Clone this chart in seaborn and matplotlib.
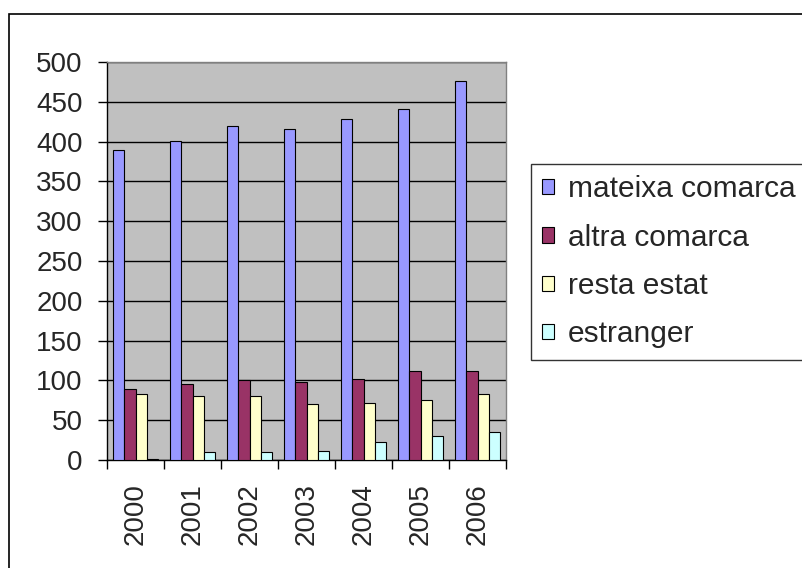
import pandas as pd
import numpy as np
import matplotlib
matplotlib.use("Agg")
import matplotlib.pyplot as plt
import seaborn as sns
from matplotlib.patches import Rectangle

# Dades llegides del gràfic
anys = ["2000", "2001", "2002", "2003", "2004", "2005", "2006"]
mateixa_comarca = [390, 401, 419, 416, 428, 441, 476]
altra_comarca = [89, 95, 101, 98, 102, 112, 112]
resta_estat = [83, 81, 81, 70, 72, 75, 83]
estranger = [1, 10, 10, 11, 23, 30, 35]

series = ["mateixa comarca", "altra comarca", "resta estat", "estranger"]
colors = ["#9999FF", "#993366", "#FFFFCC", "#CCFFFF"]

df = pd.DataFrame({
    "any": anys * 4,
    "serie": np.repeat(series, len(anys)),
    "valor": mateixa_comarca + altra_comarca + resta_estat + estranger,
})

sns.set_style("white")
plt.rcParams["font.family"] = ["Liberation Sans", "DejaVu Sans"]

fig = plt.figure(figsize=(8.02, 5.68), dpi=100)
ax = fig.add_axes([107 / 802, 1 - 460 / 568, 399 / 802, 398 / 568])

sns.barplot(data=df, x="any", y="valor", hue="serie", hue_order=series,
            palette=colors, width=0.8, edgecolor="black", linewidth=0.8,
            saturation=1, ax=ax, zorder=3)

ax.set_facecolor("#C0C0C0")
ax.set_ylim(0, 500)
ax.set_xlim(-0.5, 6.5)
ax.set_yticks(range(0, 501, 50))
ax.yaxis.grid(True, color="black", linewidth=1, zorder=0)
ax.set_axisbelow(True)
ax.set_xlabel("")
ax.set_ylabel("")

# marques entre categories
ax.set_xticks(np.arange(-0.5, 7, 1), minor=True)
ax.tick_params(axis="x", which="minor", length=6.5, width=1, color="black", direction="out")
ax.tick_params(axis="x", which="major", length=0, pad=17, labelsize=20, labelrotation=90)
ax.tick_params(axis="y", length=6.5, width=1, color="black", direction="out", labelsize=20, pad=11)
ax.tick_params(axis="both", left=True, bottom=True, which="both")

for s in ["left", "bottom"]:
    ax.spines[s].set_color("black")
    ax.spines[s].set_linewidth(1)
for s in ["top", "right"]:
    ax.spines[s].set_color("#808080")
    ax.spines[s].set_linewidth(1)

leg = ax.legend(loc="upper left", bbox_to_anchor=(531 / 802, 1 - 164 / 568),
                bbox_transform=fig.transFigure, frameon=True, fancybox=False,
                fontsize=21.5, handlelength=0.4, handleheight=0.4, handletextpad=0.45,
                labelspacing=0.68, borderpad=0.38, borderaxespad=0)
leg.get_frame().set_edgecolor("black")
leg.get_frame().set_linewidth(1)
for h in leg.legend_handles:
    h.set_edgecolor("black")

# marc exterior
fig.patches.append(Rectangle((9 / 802, -0.1), 1.2, 1 - 14 / 568 + 0.1,
                             transform=fig.transFigure, fill=False,
                             edgecolor="black", linewidth=1.2))

fig.savefig("out.png", dpi=100)
